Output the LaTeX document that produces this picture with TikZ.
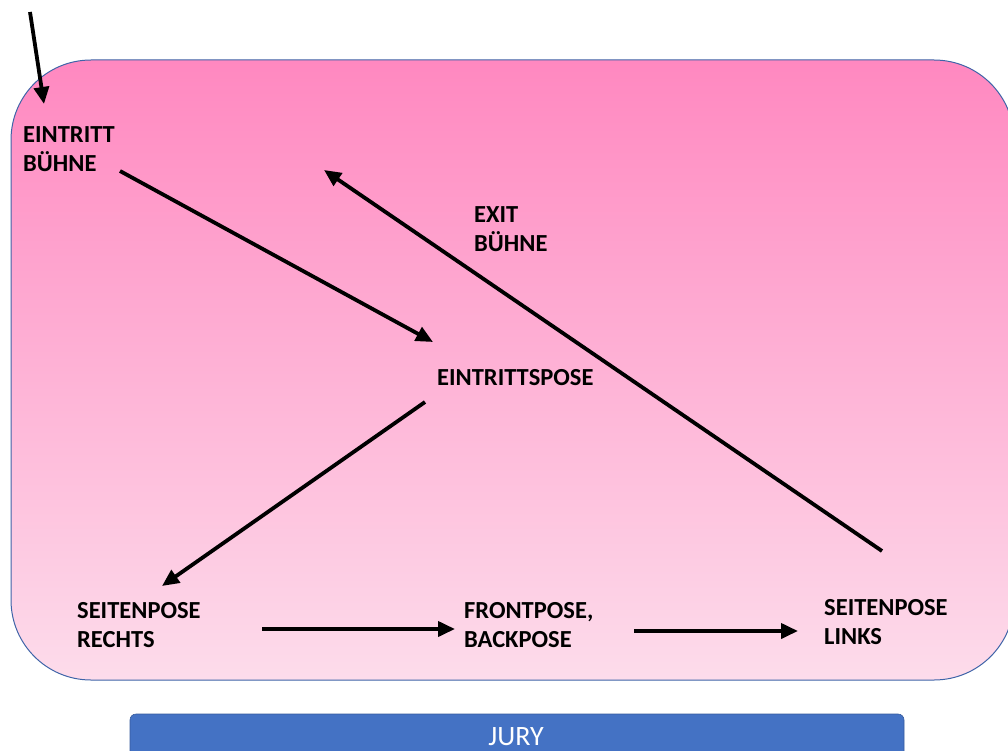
\documentclass[tikz,border=0pt]{standalone}
\usepackage{fontspec}
\newfontfamily\lblfam{Carlito}
\usetikzlibrary{arrows.meta}
\definecolor{pinktop}{HTML}{FF88C0}
\definecolor{pinkbot}{HTML}{FDDCEB}
\definecolor{jblue}{HTML}{4472C4}
\definecolor{bordblue}{HTML}{3F64A8}
\begin{document}
\begin{tikzpicture}[x=1pt,y=-1pt,
  lbl/.style={font=\lblfam\bfseries\fontsize{24.5}{29}\selectfont, align=left, anchor=west, inner sep=0pt, text=black},
  arr/.style={line width=3.8pt, -{Triangle[length=17pt,width=15pt]}}]
\useasboundingbox (0,0) rectangle (1008,751);
\begin{scope}
\clip (0,0) rectangle (1008,751);
\path[draw=bordblue, line width=1pt, top color=pinktop, bottom color=pinkbot, rounded corners=80pt] (11,60) rectangle (1014,680);
\path[draw=jblue!80!black, line width=0.6pt, fill=jblue, rounded corners=6pt] (130,714) rectangle (904,770);
\end{scope}
\node[font=\lblfam\fontsize{28}{33}\selectfont, text=white, inner sep=0pt] (jury) at (516,737) {JURY};

\node[lbl] (eb) at (23,149.5) {EINTRITT\\BÜHNE};
\node[lbl] (ex) at (474,229) {EXIT\\BÜHNE};
\node[lbl] (ep) at (437,378) {EINTRITTSPOSE};
\node[lbl] (sr) at (77,625) {SEITENPOSE\\RECHTS};
\node[lbl] (fb) at (464,625.5) {FRONTPOSE,\\BACKPOSE};
\node[lbl] (sl) at (824,622.5) {SEITENPOSE\\LINKS};

\coordinate (a0) at (30,12);   \coordinate (a1) at (44,104);
\coordinate (b0) at (120,171); \coordinate (b1) at (433,342);
\coordinate (c0) at (882,551); \coordinate (c1) at (324,170);
\coordinate (d0) at (425,402); \coordinate (d1) at (162,586);
\coordinate (e0) at (262,629); \coordinate (e1) at (455,629);
\coordinate (f0) at (634,631); \coordinate (f1) at (798,631);

\draw[arr] (a0) -- (a1);
\draw[arr] (b0) -- (b1);
\draw[arr] (c0) -- (c1);
\draw[arr] (d0) -- (d1);
\draw[arr] (e0) -- (e1);
\draw[arr] (f0) -- (f1);
\end{tikzpicture}
\end{document}
